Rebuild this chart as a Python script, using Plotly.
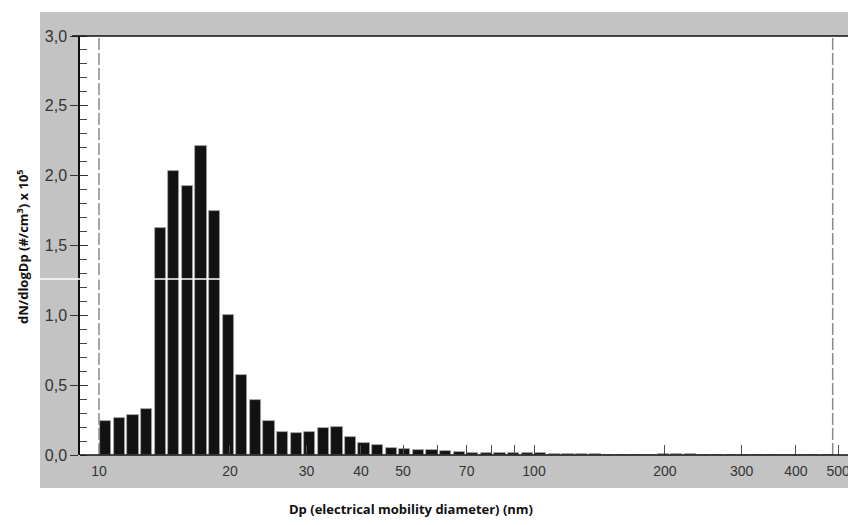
import numpy as np
import plotly.graph_objects as go

# Bin mid-point diameters (nm), 32 channels per decade
diameters = [10.37, 11.14, 11.97, 12.86, 13.82, 14.86, 15.96, 17.15, 18.43, 19.81,
             21.29, 22.88, 24.58, 26.42, 28.39, 30.51, 32.78, 35.23, 37.86, 40.68,
             43.72, 46.98, 50.48, 54.25, 58.30, 62.65, 67.32, 72.34, 77.74, 83.54,
             89.78, 96.47, 103.7, 111.4, 119.7, 128.6, 138.2, 148.6, 159.6, 171.6,
             184.4, 198.1, 212.9, 228.8, 245.9, 264.2, 283.9, 305.1, 327.8, 352.3,
             378.6, 406.8, 437.2, 469.8]

# dN/dlogDp (#/cm3) x 10^5
conc = [0.240, 0.263, 0.284, 0.332, 1.624, 2.030, 1.927, 2.213, 1.748, 1.003,
        0.573, 0.393, 0.244, 0.168, 0.155, 0.167, 0.191, 0.203, 0.129, 0.088,
        0.069, 0.053, 0.045, 0.036, 0.033, 0.026, 0.024, 0.017, 0.017, 0.017,
        0.017, 0.017, 0.017, 0.010, 0.010, 0.010, 0.010, 0.003, 0.003, 0.003,
        0.003, 0.010, 0.010, 0.010, 0.002, 0.002, 0.002, 0.002, 0.002, 0.002,
        0.002, 0.002, 0.002, 0.002]

x_label_values = [10, 20, 30, 40, 50, 70, 100, 200, 300, 400, 500]
x_label_texts = ["10", "20", "30", "40", "50", "70", "100", "200", "300", "400", "500"]
x_unlabelled_ticks = [60, 80, 90]

lower_limit = 10
upper_limit = 486

x_range = [0.9563, 2.7379]
y_range = [0, 3]

# plot area in page pixels: x 80..855, y 36..455 (page body has an 8 px margin)
PW, PH = 775, 419

fig = go.Figure()
fig.add_trace(go.Bar(
    x=np.log10(diameters), y=conc, width=0.0258,
    marker=dict(color="#121212", line=dict(color="#a8a8a8", width=0.8)),
    showlegend=False, hoverinfo="x+y",
))
# empty trace so that the overlaid tick-only y axis is drawn
fig.add_trace(go.Scatter(x=[], y=[], yaxis="y2", showlegend=False, hoverinfo="skip"))

shapes = [
    # grey panel
    dict(type="rect", xref="paper", yref="paper", x0=-40/PW, x1=776/PW,
         y0=-33/PH, y1=443/PH, fillcolor="#c3c3c3", line=dict(width=0), layer="below"),
    # white plotting area
    dict(type="rect", xref="paper", yref="paper", x0=0, x1=1, y0=0, y1=1,
         fillcolor="white", line=dict(width=0), layer="below"),
    # dashed limits
    dict(type="line", xref="x", yref="paper", x0=np.log10(lower_limit), x1=np.log10(lower_limit),
         y0=0, y1=1, line=dict(color="#8a8a8a", width=1.5, dash="12px,3px"), layer="above"),
    dict(type="line", xref="x", yref="paper", x0=np.log10(upper_limit), x1=np.log10(upper_limit),
         y0=0, y1=1, line=dict(color="#8a8a8a", width=1.5, dash="12px,3px"), layer="above"),
    # right border
    dict(type="line", xref="paper", yref="paper", x0=1, x1=1, y0=0, y1=1,
         line=dict(color="#9a9a9a", width=1), layer="above"),
    # top border
    dict(type="line", xref="paper", yref="paper", x0=-8/PW, x1=776/PW, y0=1, y1=1,
         line=dict(color="#111111", width=1.5), layer="above"),
    # baseline
    dict(type="line", xref="paper", yref="paper", x0=0, x1=1, y0=0, y1=0,
         line=dict(color="#111111", width=1.5), layer="above"),
    # white scan line artefact
    dict(type="line", xref="paper", yref="y", x0=-40/PW, x1=142/PW, y0=1.26, y1=1.26,
         line=dict(color="white", width=1.5), layer="above"),
]

fig.update_layout(
    width=848, height=517,
    margin=dict(l=72, r=1, t=28, b=70, pad=0),
    paper_bgcolor="white", plot_bgcolor="white",
    separators=",.",
    bargap=0,
    shapes=shapes,
    font=dict(family="Liberation Sans, Arial, sans-serif", size=14, color="#333333"),
    xaxis=dict(
        range=x_range, type="linear",
        tickvals=np.log10(x_label_values), ticktext=x_label_texts,
        ticks="inside", ticklen=10, tickwidth=1.2, tickcolor="#505050",
        minor=dict(tickvals=np.log10(x_unlabelled_ticks), ticks="inside", ticklen=10,
                   tickwidth=1.2, tickcolor="#505050", showgrid=False),
        showgrid=False, zeroline=False, showline=False,
        layer="above traces", ticklabelstandoff=6,
        tickfont=dict(size=14, color="#333333"),
    ),
    yaxis=dict(
        range=y_range, dtick=0.5, tick0=0, tickformat=".1f",
        ticks="outside", ticklen=8, tickwidth=1, tickcolor="#333333",
        minor=dict(ticks="inside", dtick=0.1, tick0=0, ticklen=7, tickwidth=1, tickcolor="#444444"),
        showgrid=False, zeroline=False, showline=True, linecolor="#111111", linewidth=1.5,
        tickfont=dict(size=16, color="#333333"),
    ),
    yaxis2=dict(
        range=y_range, overlaying="y", side="left", anchor="x",
        dtick=0.5, tick0=0, ticks="inside", ticklen=8, tickwidth=1, tickcolor="#333333",
        showticklabels=False, showgrid=False, zeroline=False, showline=False,
    ),
    annotations=[
        dict(text="dN/dlogDp (#/cm<sup>3</sup>) x 10<sup>5</sup>", xref="paper", yref="paper",
             x=(22-80)/PW, y=(455-247)/PH, textangle=-90, showarrow=False,
             xanchor="center", yanchor="middle",
             font=dict(family="Open Sans, sans-serif", size=13, color="#111111", weight="bold")),
        dict(text="Dp (electrical mobility diameter) (nm)", xref="paper", yref="paper",
             x=(411-80)/PW, y=-(509-455)/PH, showarrow=False,
             xanchor="center", yanchor="middle",
             font=dict(family="Open Sans, sans-serif", size=13, color="#111111", weight="bold")),
    ],
)

fig.write_html("out.html")
